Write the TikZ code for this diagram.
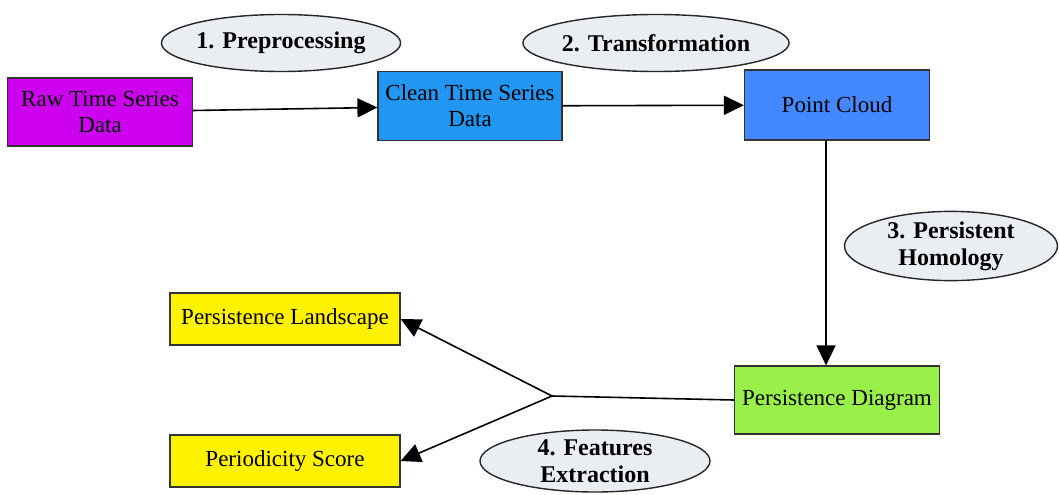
\documentclass[tikz,border=0pt]{standalone}
\usepackage{fontspec}
\setmainfont{Liberation Serif}
\usetikzlibrary{arrows.meta,shapes.geometric}

\definecolor{rawcol}{RGB}{204,0,238}
\definecolor{cleancol}{RGB}{33,150,243}
\definecolor{cloudcol}{RGB}{68,136,255}
\definecolor{diagcol}{RGB}{153,240,75}
\definecolor{stepcol}{RGB}{234,238,242}

\tikzset{
  box/.style={draw=black!80, line width=1.2pt, align=center, inner sep=2pt,
    font=\fontsize{23}{26}\selectfont},
  steplabel/.style={ellipse, draw=black!85, line width=1.4pt, fill=stepcol,
    align=center, inner sep=0pt, font=\fontsize{24}{27}\selectfont\bfseries},
  flow/.style={line width=1.6pt, -{Triangle[length=20pt,width=19pt]}}
}

\begin{document}
\begin{tikzpicture}[x=1pt,y=-1pt]

% Frame
\useasboundingbox (0,0) rectangle (1060,495);
\fill[white] (0,0) rectangle (1060,495);

% Data nodes
\node[box, fill=rawcol, minimum width=185pt, minimum height=68pt] (raw) at (100,112) {Raw Time Series\\Data};
\node[box, fill=cleancol, minimum width=184pt, minimum height=69pt] (clean) at (470,106) {Clean Time Series\\Data};
\node[box, fill=cloudcol, minimum width=185pt, minimum height=70pt] (cloud) at (837,105) {Point Cloud};
\node[box, fill=diagcol, minimum width=205pt, minimum height=68pt] (diag) at (837,400) {Persistence Diagram};
\node[box, fill=yellow, minimum width=230pt, minimum height=52pt] (land) at (285,319) {Persistence Landscape};
\node[box, fill=yellow, minimum width=230pt, minimum height=52pt] (period) at (285,461) {Periodicity Score};

% Step labels
\node[steplabel, minimum width=217pt, minimum height=57pt] (pre) at (281,43) {1. Preprocessing};
\node[steplabel, minimum width=217pt, minimum height=57pt] (trans) at (656,43) {2. Transformation};
\node[steplabel, minimum width=213pt, minimum height=67pt] (homol) at (951,246) {3. Persistent\\Homology};
\node[steplabel, minimum width=230pt, minimum height=62pt] (feat) at (595,461) {4. Features\\Extraction};

% Connectors
\coordinate (split) at (552,396);
\draw[flow] (raw) -- (clean);
\draw[flow] (clean) -- (cloud);
\draw[flow] ([xshift=-11pt]cloud.south) -- ([xshift=-11pt]diag.north);
\draw[line width=1.6pt] (diag.west) -- (split);
\draw[flow] (split) -- (land.east);
\draw[flow] (split) -- (period.east);

\end{tikzpicture}
\end{document}
